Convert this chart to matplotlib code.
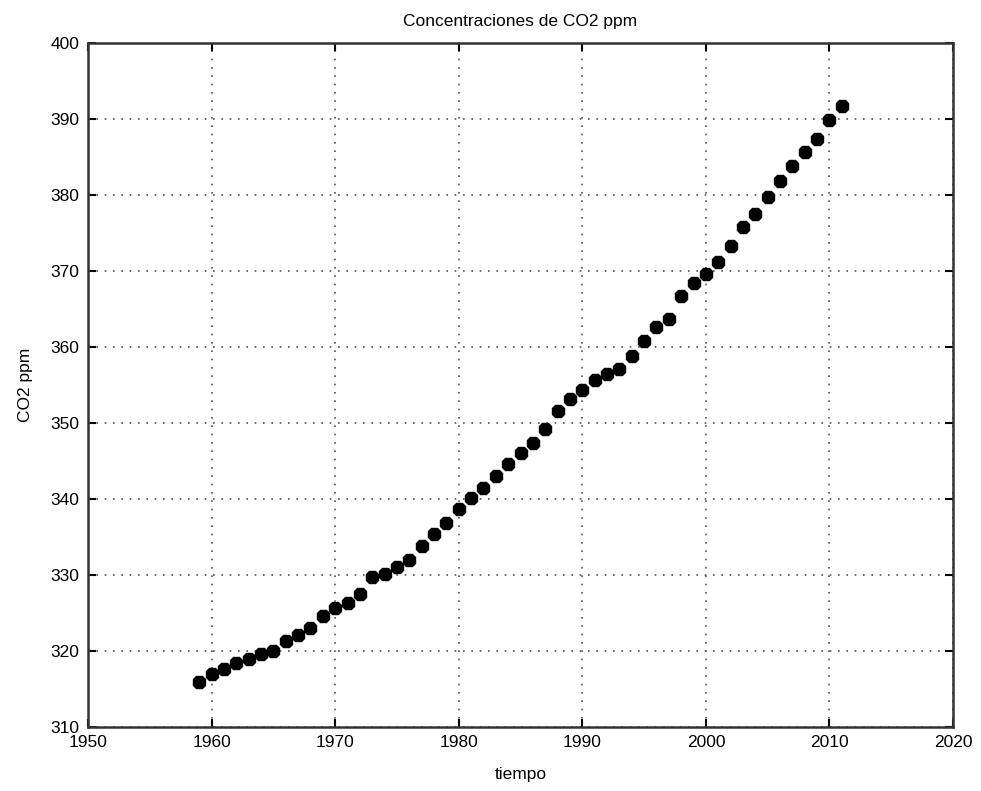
import matplotlib
matplotlib.use("Agg")
import matplotlib.pyplot as plt

# Mauna Loa annual mean CO2 (ppm)
years = list(range(1959, 2012))
co2 = [315.97, 316.91, 317.64, 318.45, 318.99, 319.62, 320.04, 321.38, 322.16, 323.04,
       324.62, 325.68, 326.32, 327.45, 329.68, 330.18, 331.11, 332.04, 333.83, 335.40,
       336.84, 338.75, 340.11, 341.45, 343.05, 344.65, 346.12, 347.42, 349.19, 351.57,
       353.12, 354.39, 355.61, 356.45, 357.10, 358.83, 360.82, 362.61, 363.73, 366.70,
       368.38, 369.55, 371.14, 373.28, 375.80, 377.52, 379.80, 381.90, 383.79, 385.60,
       387.43, 389.90, 391.65]

xticks = [1950, 1960, 1970, 1980, 1990, 2000, 2010, 2020]
yticks = [310, 320, 330, 340, 350, 360, 370, 380, 390, 400]

plt.rcParams['font.family'] = ['Liberation Sans', 'DejaVu Sans']
plt.rcParams['font.size'] = 12.5

fig = plt.figure(figsize=(9.81, 7.91), dpi=100)
ax = fig.add_axes([0.0897, 0.0809, 0.8818, 0.8647])

ax.plot(years, co2, linestyle='none', marker='8', markersize=9.5,
        color='black', markeredgecolor='black')

ax.set_xlim(1950, 2020)
ax.set_ylim(310, 400)
ax.set_xticks(xticks)
ax.set_yticks(yticks)
ax.grid(True, linestyle=(0, (1, 4)), color='#555555', linewidth=1.2)
ax.tick_params(direction='in', top=True, right=True, length=6, width=1.5, pad=6)
for s in ax.spines.values():
    s.set_linewidth(1.8)
    s.set_color('#333333')

ax.set_title('Concentraciones de CO2 ppm', fontsize=12.5, pad=12)
ax.set_xlabel('tiempo', fontsize=12.5, labelpad=12)
ax.set_ylabel('CO2 ppm', fontsize=12.5, labelpad=13)

fig.savefig('out.png', dpi=100)
